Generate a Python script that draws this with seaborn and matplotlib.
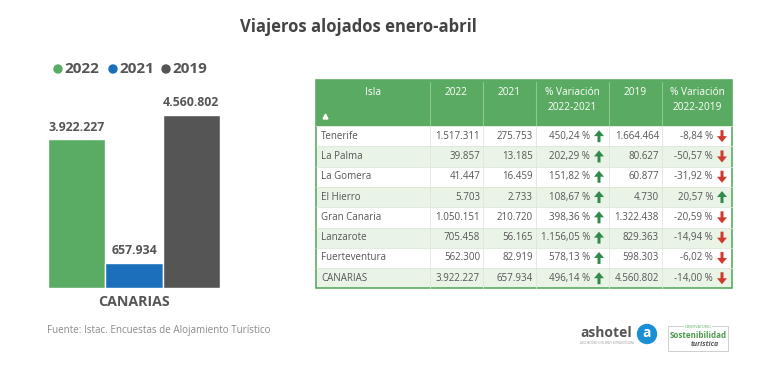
import matplotlib
matplotlib.use("Agg")
import matplotlib.pyplot as plt
from matplotlib.patches import Rectangle, Circle
import seaborn as sns
import pandas as pd

# Data
islas = ["Tenerife", "La Palma", "La Gomera", "El Hierro", "Gran Canaria",
         "Lanzarote", "Fuerteventura", "CANARIAS"]
v2022 = [1517311, 39857, 41447, 5703, 1050151, 705458, 562300, 3922227]
v2021 = [275753, 13185, 16459, 2733, 210720, 56165, 82919, 657934]
var_22_21 = [450.24, 202.29, 151.82, 108.67, 398.36, 1156.05, 578.13, 496.14]
v2019 = [1664464, 80627, 60877, 4730, 1322438, 829363, 598303, 4560802]
var_22_19 = [-8.84, -50.57, -31.92, 20.57, -20.59, -14.94, -6.02, -14.00]

years = ["2022", "2021", "2019"]
totals = [3922227, 657934, 4560802]
year_colors = ["#5aab63", "#1b6fbb", "#555555"]

headers = [["Isla"], ["2022"], ["2021"], ["% Variación", "2022-2021"],
           ["2019"], ["% Variación", "2022-2019"]]


def fmt_int(n):
    return f"{n:,}".replace(",", ".")


def fmt_pct(v):
    s = f"{v:,.2f}".replace(",", "X").replace(".", ",").replace("X", ".")
    return s + " %"


sns.set_theme(style="white")
plt.rcParams["font.family"] = ["Open Sans", "DejaVu Sans"]

W, H = 768, 374
fig = plt.figure(figsize=(W / 100, H / 100), dpi=100)
fig.patch.set_facecolor("white")

# overlay axes in pixel coordinates
ov = fig.add_axes([0, 0, 1, 1])
ov.set_xlim(0, W)
ov.set_ylim(H, 0)
ov.axis("off")

txt = "#555555"
ov.text(358, 27, "Viajeros alojados enero-abril", ha="center", va="center",
        fontsize=12, fontweight="bold", color="#444444")

# legend
lx = [58, 113, 166]
for x, y, c in zip(lx, years, year_colors):
    ov.add_patch(Circle((x, 69), 4, color=c))
    ov.text(x + 6, 69, y, ha="left", va="center", fontsize=11,
            fontweight="bold", color=txt)

ov.text(47, 331, "Fuente: Istac. Encuestas de Alojamiento Turístico",
        ha="left", va="center", fontsize=7.1, color="#8a8a8a")

# bar chart
def px(x0, y0, x1, y1):
    return [x0 / W, 1 - y1 / H, (x1 - x0) / W, (y1 - y0) / H]

bx = fig.add_axes(px(48, 100, 220, 288))
df = pd.DataFrame({"year": years, "total": totals})
sns.barplot(data=df, x="year", y="total", hue="year", palette=year_colors,
            order=years, width=1.0, legend=False, ax=bx, saturation=1)
bx.set_xlim(-0.5, 2.5)
bx.set_ylim(0, max(totals) * 188 / 173)
bx.axis("off")
for i, v in enumerate(totals):
    bx.annotate(fmt_int(v), (i, v), xytext=(0, 4), textcoords="offset points",
                ha="center", va="bottom", fontsize=8.8, fontweight="bold",
                color=txt)
ov.text(134, 302, "CANARIAS", ha="center", va="center", fontsize=10.2,
        fontweight="bold", color=txt)

# table
col_x = [316, 430, 483, 536, 609, 662, 732]
top, head_h, row_h = 80, 46, 20.3
green = "#5aab61"
light = "#e9f4e6"
n = len(islas)
bottom = top + head_h + n * row_h

ov.add_patch(Rectangle((col_x[0], top), col_x[-1] - col_x[0], head_h,
                       facecolor=green, edgecolor="none"))
for j, lines in enumerate(headers):
    cx = (col_x[j] + col_x[j + 1]) / 2
    for k, ln in enumerate(lines):
        ov.text(cx, 92 + k * 15, ln, ha="center", va="center",
                fontsize=7.3, color="white")
for x in col_x[1:-1]:
    ov.plot([x, x], [top + 2, top + head_h], color="#8cc990", lw=0.8)
ov.plot([324.5], [116], marker="^", color="white", ms=3.5)

rows = list(zip(islas, v2022, v2021, var_22_21, v2019, var_22_19))
for i, (isla, a, b, p1, c, p2) in enumerate(rows):
    y0 = top + head_h + i * row_h
    yc = y0 + row_h / 2
    fc = "white" if i % 2 == 0 else light
    ov.add_patch(Rectangle((col_x[0], y0), col_x[-1] - col_x[0], row_h,
                           facecolor=fc, edgecolor="none"))
    ov.plot([col_x[0], col_x[-1]], [y0, y0], color="#dde8da", lw=0.6)
    ov.text(col_x[0] + 5, yc, isla, ha="left", va="center",
            fontsize=7, color=txt)
    ov.text(col_x[2] - 3, yc, fmt_int(a), ha="right", va="center",
            fontsize=7, color=txt)
    ov.text(col_x[3] - 3, yc, fmt_int(b), ha="right", va="center",
            fontsize=7, color=txt)
    ov.text(col_x[4] - 19, yc, fmt_pct(p1), ha="right", va="center",
            fontsize=7, color=txt)
    ov.text(col_x[5] - 3, yc, fmt_int(c), ha="right", va="center",
            fontsize=7, color=txt)
    ov.text(col_x[6] - 19, yc, fmt_pct(p2), ha="right", va="center",
            fontsize=7, color=txt)
    for xa, p in ((col_x[4] - 10, p1), (col_x[6] - 10, p2)):
        if p >= 0:
            ov.arrow(xa, yc + 6, 0, -12, width=3, head_width=10,
                     head_length=6, length_includes_head=True,
                     color="#2f8a4c", lw=0)
        else:
            ov.arrow(xa, yc - 6, 0, 12, width=3, head_width=10,
                     head_length=6, length_includes_head=True,
                     color="#d0392b", lw=0)

for x in col_x[1:-1]:
    ov.plot([x, x], [top + head_h, bottom], color="#dfe6dd", lw=0.6)
ov.add_patch(Rectangle((col_x[0], top), col_x[-1] - col_x[0], bottom - top,
                       facecolor="none", edgecolor=green, lw=1.2))

# logos
ov.text(580, 333, "ashotel", ha="left", va="center", fontsize=10,
        fontweight="bold", color="#555555")
ov.text(580, 343, "ASOCIACIÓN HOTELERA Y EXTRAHOTELERA", ha="left",
        va="center", fontsize=2, color="#999999")
ov.add_patch(Circle((647, 334), 9.5, color="#1a8fd6"))
ov.text(647, 333, "a", ha="center", va="center", fontsize=10,
        fontweight="bold", color="white")
ov.add_patch(Rectangle((668, 326), 60, 25, facecolor="white",
                       edgecolor="#c8c8c8", lw=0.6))
ov.text(698, 327, "OBSERVATORIO", ha="center", va="center", fontsize=2.6,
        color="#5aab61", bbox=dict(facecolor="white", edgecolor="none", pad=0.3))
ov.text(698, 336, "Sostenibilidad", ha="center", va="center", fontsize=5.8,
        fontweight="bold", color="#4c9a4c")
ov.text(705, 344.5, "turística", ha="center", va="center", fontsize=5,
        fontweight="bold", fontstyle="italic", color="#555555")

fig.savefig("out.png", dpi=100, facecolor="white")
